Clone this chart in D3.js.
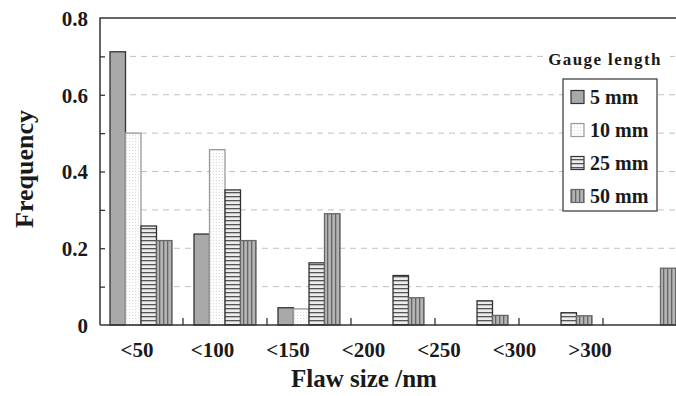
<!DOCTYPE html>
<html lang="en">
<head>
<meta charset="UTF-8">
<title>Flaw size frequency</title>
<script src="https://cdn.jsdelivr.net/npm/d3@7/dist/d3.min.js"></script>
<style>
  body { margin: 0; background: #fff; }
  #chart text { font-family: "Liberation Serif", "DejaVu Serif", serif; font-weight: bold; fill: #1a1a1a; }
</style>
</head>
<body>
<div id="chart"></div>
<script>
// data
var categories = ["<50", "<100", "<150", "<200", "<250", "<300", ">300"];
var series = ["5 mm", "10 mm", "25 mm", "50 mm"];
var gauge5  = [0.712, 0.237, 0.045, 0, 0, 0, 0];
var gauge10 = [0.500, 0.457, 0.042, 0, 0, 0, 0];
var gauge25 = [0.258, 0.352, 0.162, 0.129, 0.063, 0.032, 0];
var gauge50 = [0.220, 0.220, 0.290, 0.071, 0.025, 0.024, 0.148];
var yTicks = [0, 0.2, 0.4, 0.6, 0.8];
var minorTicks = [0.1, 0.2, 0.3, 0.4, 0.5, 0.6, 0.7];

var values = [gauge5, gauge10, gauge25, gauge50];

var svg = d3.select("#chart").append("svg")
  .attr("width", 676)
  .attr("height", 396);

// patterns for the bar fills
var defs = svg.append("defs");
var dots = defs.append("pattern").attr("id", "dots")
  .attr("patternUnits", "userSpaceOnUse").attr("width", 3).attr("height", 3);
dots.append("rect").attr("width", 3).attr("height", 3).attr("fill", "#fcfcfc");
dots.append("rect").attr("width", 1).attr("height", 1).attr("fill", "#dcdcdc");

var hlines = defs.append("pattern").attr("id", "hlines")
  .attr("patternUnits", "userSpaceOnUse").attr("width", 4).attr("height", 4);
hlines.append("rect").attr("width", 4).attr("height", 4).attr("fill", "#ececec");
hlines.append("rect").attr("width", 4).attr("height", 1.3).attr("fill", "#555");

var vlines = defs.append("pattern").attr("id", "vlines")
  .attr("patternUnits", "userSpaceOnUse").attr("width", 4).attr("height", 4);
vlines.append("rect").attr("width", 4).attr("height", 4).attr("fill", "#b4b4b4");
vlines.append("rect").attr("width", 1.3).attr("height", 4).attr("fill", "#666");

var fills = ["#a9a9a9", "url(#dots)", "url(#hlines)", "url(#vlines)"];
var strokes = ["#333", "#9a9a9a", "#333", "#666"];

// scales
var plotLeft = 100, plotBottom = 325, plotTop = 18;
var x0 = d3.scaleBand().domain(categories).range([99, 687]);
var x1 = d3.scaleBand().domain(series).range([11, 73]);
var xLab = d3.scalePoint().domain(categories).range([137, 590]);
var y = d3.scaleLinear().domain([0, 0.8]).range([plotBottom, plotTop]);

// dashed grid
svg.append("g").selectAll("line")
  .data(minorTicks)
  .enter().append("line")
  .attr("x1", 130).attr("x2", 676)
  .attr("y1", function(d) { return y(d); })
  .attr("y2", function(d) { return y(d); })
  .attr("stroke", "#c0c0c0")
  .attr("stroke-width", 1)
  .attr("stroke-dasharray", "6,5");

// bars
var groups = svg.append("g").selectAll("g")
  .data(categories)
  .enter().append("g")
  .attr("transform", function(d) { return "translate(" + x0(d) + ",0)"; });

groups.selectAll("rect")
  .data(function(d, i) {
    return series.map(function(s, j) { return { s: s, j: j, v: values[j][i] }; })
      .filter(function(e) { return e.v > 0; });
  })
  .enter().append("rect")
  .attr("x", function(d) { return x1(d.s); })
  .attr("y", function(d) { return y(d.v); })
  .attr("width", x1.bandwidth())
  .attr("height", function(d) { return plotBottom - y(d.v); })
  .attr("fill", function(d) { return fills[d.j]; })
  .attr("stroke", function(d) { return strokes[d.j]; })
  .attr("stroke-width", 1.3);

// frame: left axis + top line
svg.append("path")
  .attr("d", "M676," + plotTop + "H" + plotLeft + "V" + plotBottom)
  .attr("fill", "none")
  .attr("stroke", "#333")
  .attr("stroke-width", 1.5);

// left axis inner ticks
svg.append("g").attr("transform", "translate(" + plotLeft + ",0)")
  .call(d3.axisRight(y).tickValues(minorTicks).tickSize(5).tickFormat(""))
  .call(function(g) {
    g.select(".domain").remove();
    g.selectAll("line").attr("stroke", "#333").attr("stroke-width", 1.3);
  });

// left tick labels
svg.append("g").attr("transform", "translate(" + plotLeft + ",0)")
  .call(d3.axisLeft(y).tickValues(yTicks).tickSize(0).tickPadding(12)
    .tickFormat(function(d) { return d === 0 ? "0" : d3.format(".1f")(d); }))
  .call(function(g) {
    g.select(".domain").remove();
    g.selectAll("text").style("font-size", "21px").attr("dy", "0.35em");
  });

// bottom axis
svg.append("line")
  .attr("x1", plotLeft).attr("x2", 676)
  .attr("y1", plotBottom).attr("y2", plotBottom)
  .attr("stroke", "#333").attr("stroke-width", 1.5);

svg.append("g").selectAll("line")
  .data(categories.slice(1))
  .enter().append("line")
  .attr("x1", function(d) { return x0(d); })
  .attr("x2", function(d) { return x0(d); })
  .attr("y1", plotBottom).attr("y2", plotBottom - 7)
  .attr("stroke", "#333").attr("stroke-width", 1.3);

svg.append("g").selectAll("text")
  .data(categories)
  .enter().append("text")
  .attr("x", function(d) { return xLab(d); })
  .attr("y", 357)
  .attr("text-anchor", "middle")
  .style("font-size", "21px")
  .text(function(d) { return d; });

// axis titles
svg.append("text")
  .attr("x", 364).attr("y", 387)
  .attr("text-anchor", "middle")
  .style("font-size", "25px")
  .text("Flaw size /nm");

svg.append("text")
  .attr("transform", "translate(33,169) rotate(-90)")
  .attr("text-anchor", "middle")
  .style("font-size", "26px")
  .text("Frequency");

// legend
var legend = svg.append("g");
legend.append("rect")
  .attr("x", 544).attr("y", 48).attr("width", 126).attr("height", 22)
  .attr("fill", "#fff");
legend.append("text")
  .attr("x", 605).attr("y", 65)
  .attr("text-anchor", "middle")
  .style("font-size", "17px")
  .style("letter-spacing", "1.4px")
  .text("Gauge length");

legend.append("rect")
  .attr("x", 563).attr("y", 79).attr("width", 94).attr("height", 132)
  .attr("fill", "#fff").attr("stroke", "#444").attr("stroke-width", 1.3);

var items = legend.selectAll(".item")
  .data(series)
  .enter().append("g")
  .attr("class", "item")
  .attr("transform", function(d, i) { return "translate(571," + (97 + i * 33) + ")"; });

items.append("rect")
  .attr("x", 0).attr("y", -6.5).attr("width", 13).attr("height", 13)
  .attr("fill", function(d, i) { return fills[i]; })
  .attr("stroke", function(d, i) { return strokes[i]; })
  .attr("stroke-width", 1.2);

items.append("text")
  .attr("x", 19).attr("y", 7)
  .style("font-size", "20px")
  .text(function(d) { return d; });
</script>
</body>
</html>
